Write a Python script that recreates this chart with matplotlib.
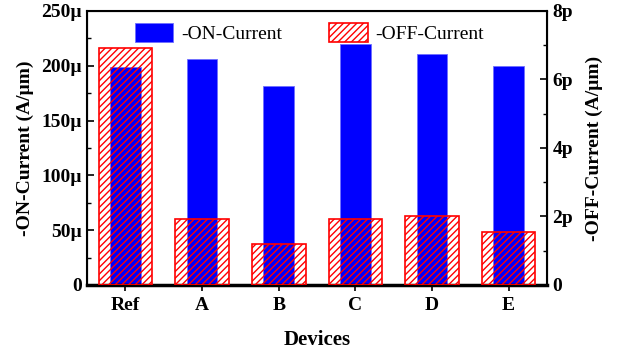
import numpy as np
import matplotlib
matplotlib.use('Agg')
import matplotlib.pyplot as plt
from matplotlib.ticker import FuncFormatter, MultipleLocator

plt.rcParams['font.family'] = ['Liberation Serif', 'DejaVu Serif']
plt.rcParams['hatch.linewidth'] = 1.0

# data (A/um)
devices = ['Ref', 'A', 'B', 'C', 'D', 'E']
on_current = [199.2, 206.3, 181.8, 219.5, 211.0, 200.0]   # in micro
off_current = [6.91, 1.94, 1.20, 1.93, 2.01, 1.54]        # in pico

fig = plt.figure(figsize=(6.18, 3.54), dpi=100)
ax = fig.add_axes([0.141, 0.195, 0.744, 0.774])
ax2 = ax.twinx()

index = np.arange(len(devices))

b1 = ax.bar(index, on_current, 0.4, color='#0000ff', edgecolor='#6f6fff',
            linewidth=0.6, label='-ON-Current', zorder=2)
b2 = ax2.bar(index, off_current, 0.7, facecolor='none', edgecolor='#ff0000',
             hatch='/////', linewidth=1.2, label='-OFF-Current', zorder=3)

ax.set_xlim(-0.5, 5.5)
ax.set_ylim(0, 250)
ax2.set_ylim(0, 8)

ax.yaxis.set_major_locator(MultipleLocator(50))
ax.yaxis.set_minor_locator(MultipleLocator(25))
ax2.yaxis.set_major_locator(MultipleLocator(2))
ax2.yaxis.set_minor_locator(MultipleLocator(1))
ax.yaxis.set_major_formatter(FuncFormatter(lambda v, p: '0' if v == 0 else '%d\u00b5' % v))
ax2.yaxis.set_major_formatter(FuncFormatter(lambda v, p: '0' if v == 0 else '%dp' % v))

ax.set_xticks(index)
ax.set_xticklabels(devices, fontsize=14, fontweight='bold')
for lab in ax.get_yticklabels():
    lab.set_fontweight('bold')
for lab in ax2.get_yticklabels():
    lab.set_fontweight('bold')

ax.tick_params(axis='y', which='major', direction='in', length=5, width=1.2, labelsize=14, pad=4)
ax.tick_params(axis='y', which='minor', direction='in', length=3, width=1.0)
ax2.tick_params(axis='y', which='major', direction='in', length=5, width=1.2, labelsize=14, pad=4)
ax2.tick_params(axis='y', which='minor', direction='in', length=3, width=1.0)
ax.tick_params(axis='x', direction='out', length=4, width=1.2, pad=5)

for sp in ax2.spines.values():
    sp.set_linewidth(1.5)
ax2.spines['bottom'].set_linewidth(2.5)

ax.set_xlabel('Devices', fontsize=15, fontweight='bold', labelpad=11)
ax.set_ylabel('-ON-Current (A/\u00b5m)', fontsize=14, fontweight='bold', labelpad=5)
ax2.set_ylabel('-OFF-Current (A/\u00b5m)', fontsize=14, fontweight='bold', labelpad=9)

ax2.legend([b1, b2], ['-ON-Current', '-OFF-Current'], loc='upper left',
           ncol=2, frameon=False, fontsize=14, handlelength=2.0, handleheight=1.1,
           columnspacing=2.4, handletextpad=0.4, bbox_to_anchor=(0.065, 1.02))

fig.savefig('out.png', dpi=100)
